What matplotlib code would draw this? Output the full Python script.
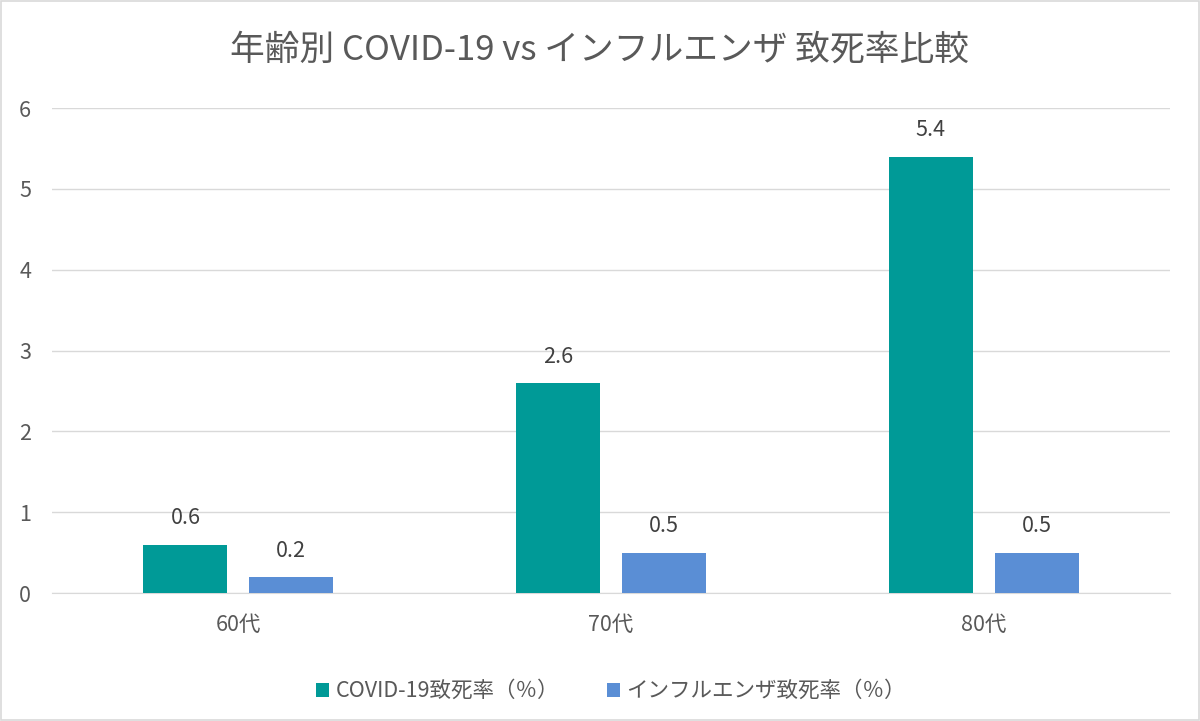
import matplotlib
matplotlib.use("Agg")
import matplotlib.pyplot as plt
import numpy as np
from matplotlib.patches import Rectangle

plt.rcParams['font.family'] = ['Noto Sans CJK JP', 'DejaVu Sans']

categories = ["60代", "70代", "80代"]
covid_rate = [0.6, 2.6, 5.4]
flu_rate = [0.2, 0.5, 0.5]
series_names = ["COVID-19致死率（％）", "インフルエンザ致死率（％）"]
title = "年齢別 COVID-19 vs インフルエンザ 致死率比較"

teal = "#009A97"
blue = "#5A8ED5"
text_gray = "#595959"

fig = plt.figure(figsize=(12, 7.21), dpi=100)
ax = fig.add_axes([0.0433, 0.1775, 0.9317, 0.6725])

x = np.arange(len(categories))
w = 0.225
off = 0.142
b1 = ax.bar(x - off, covid_rate, w, color=teal, label=series_names[0], zorder=3)
b2 = ax.bar(x + off, flu_rate, w, color=blue, label=series_names[1], zorder=3)

for bars, vals in ((b1, covid_rate), (b2, flu_rate)):
    for r, v in zip(bars, vals):
        ax.annotate(f"{v:g}", (r.get_x() + r.get_width() / 2, v),
                    xytext=(0, 11), textcoords="offset points",
                    ha="center", va="bottom", fontsize=15.5, color="#404040")

ax.set_xlim(-0.5, 2.5)
ax.set_ylim(0, 6)
ax.set_yticks(range(0, 7))
ax.set_xticks(x)
ax.set_xticklabels(categories)
ax.yaxis.grid(True, color="#D9D9D9", linewidth=1, zorder=0)
for s in ("top", "right", "left"):
    ax.spines[s].set_visible(False)
ax.spines["bottom"].set_color("#D9D9D9")
ax.tick_params(axis="both", length=0, labelsize=15.5, colors=text_gray)
ax.tick_params(axis="y", pad=15)
ax.tick_params(axis="x", pad=15)

fig.text(0.5, 0.93, title, ha="center", va="center", fontsize=25, color=text_gray)

ax.legend(loc="upper center", bbox_to_anchor=(0.5, -0.14), ncol=2, frameon=False,
          fontsize=15.5, labelcolor=text_gray, handlelength=0.6, handleheight=0.6,
          handletextpad=0.3, columnspacing=2.2)

fig.patches.append(Rectangle((0.001, 0.001), 0.998, 0.997, transform=fig.transFigure,
                             fill=False, edgecolor="#D9D9D9", linewidth=1.2))

fig.savefig("out.png", dpi=100)
